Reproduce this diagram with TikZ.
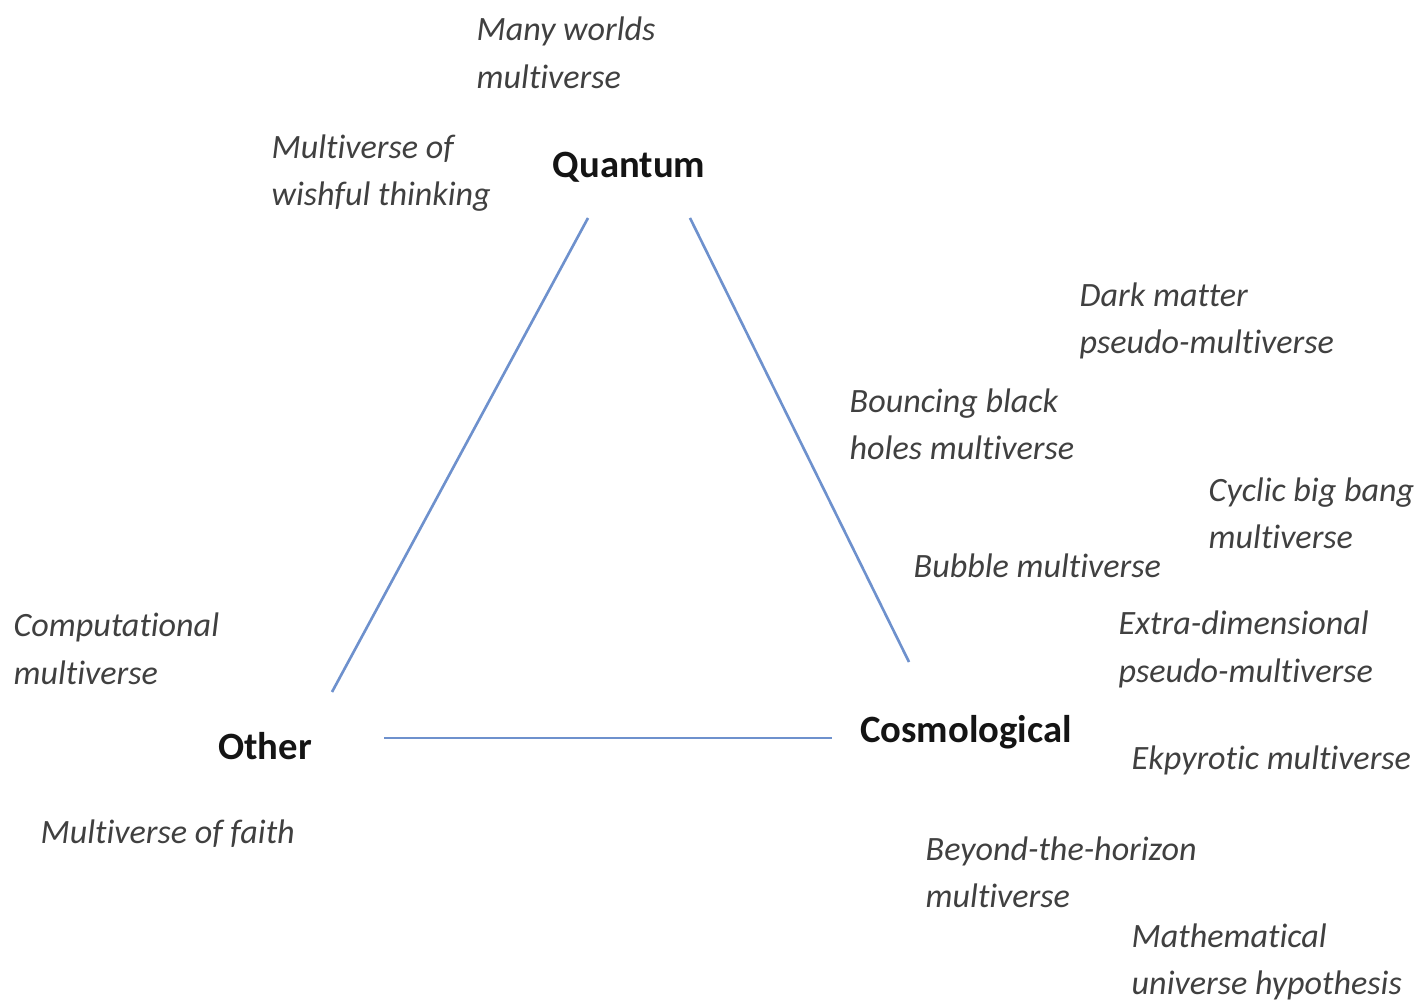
\documentclass[tikz,border=0pt]{standalone}
\usepackage{fontspec}
\setmainfont{Carlito}[Ligatures=NoCommon]
\usepackage{xcolor}
\usepackage{tikz}
\usetikzlibrary{positioning, calc}
\definecolor{myblue}{RGB}{110,145,205}
\definecolor{mygray}{RGB}{64,64,64}
\definecolor{mydark}{RGB}{20,20,20}
\tikzset{
  corner/.style={font=\fontsize{11}{13}\selectfont\bfseries, color=mydark, inner sep=0pt},
  kind/.style={font=\fontsize{9.7}{13.5}\selectfont\itshape, color=mygray,
    align=left, anchor=west, inner sep=0pt},
  line/.style={color=myblue, line width=0.75pt}
}
\begin{document}
\begin{tikzpicture}
  \useasboundingbox (0,0) rectangle (14.18,10.02);
  % Corners of the triangle
  \node[corner] (quantum) at (6.29,8.35) {Quantum};
  \node[corner] (other) at (2.65,2.56) {Other};
  \node[corner] (cosmo) at (9.66,2.70) {Cosmological};

  \coordinate (qleft) at (5.88,7.84);
  \coordinate (qright) at (6.90,7.84);
  \coordinate (otop) at (3.32,3.10);
  \coordinate (oright) at (3.84,2.64);
  \coordinate (ctop) at (9.09,3.40);
  \coordinate (cleft) at (8.32,2.64);

  \draw[line] (otop) -- (qleft);
  \draw[line] (qright) -- (ctop);
  \draw[line] (oright) -- (cleft);

  % Quantum
  \node[kind] (manyworlds) at (4.76,9.49) {Many worlds\\multiverse};
  \node[kind] (wishful) at (2.71,8.29) {Multiverse of\\wishful thinking};

  % Cosmological
  \node[kind] (darkmatter) at (10.79,6.81) {Dark matter\\pseudo-multiverse};
  \node[kind] (bouncing) at (8.49,5.775) {Bouncing black\\holes multiverse};
  \node[kind] (cyclic) at (12.08,4.885) {Cyclic big bang\\multiverse};
  \node[kind] (bubble) at (9.13,4.36) {Bubble multiverse};
  \node[kind] (extradim) at (11.18,3.525) {Extra-dimensional\\pseudo-multiverse};
  \node[kind] (ekpyrotic) at (11.31,2.42) {Ekpyrotic multiverse};
  \node[kind] (horizon) at (9.25,1.295) {Beyond-the-horizon\\multiverse};
  \node[kind] (mathuniv) at (11.31,0.40) {Mathematical\\universe hypothesis};

  % Other
  \node[kind] (computational) at (0.13,3.53) {Computational\\multiverse};
  \node[kind] (faith) at (0.40,1.685) {Multiverse of faith};
\end{tikzpicture}
\end{document}
